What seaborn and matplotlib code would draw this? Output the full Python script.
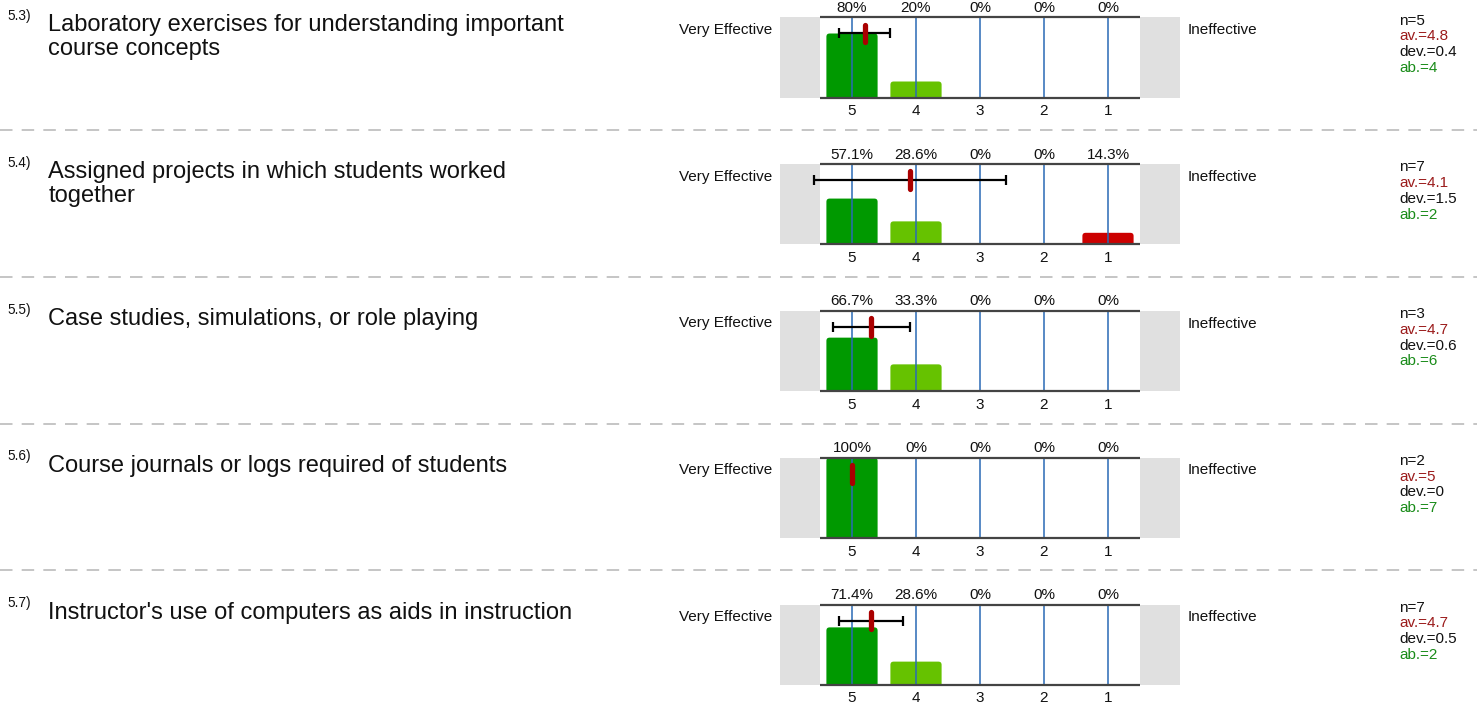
import matplotlib
matplotlib.use("Agg")
import matplotlib.pyplot as plt
import seaborn as sns
import pandas as pd
from matplotlib.patches import FancyBboxPatch

# ---------------- data ----------------
scale = ["5", "4", "3", "2", "1"]
question_ids = ["5.3)", "5.4)", "5.5)", "5.6)", "5.7)"]
questions = [
    "Laboratory exercises for understanding important\ncourse concepts",
    "Assigned projects in which students worked\ntogether",
    "Case studies, simulations, or role playing",
    "Course journals or logs required of students",
    "Instructor's use of computers as aids in instruction",
]
pct_q53 = [80, 20, 0, 0, 0]
pct_q54 = [57.1, 28.6, 0, 0, 14.3]
pct_q55 = [66.7, 33.3, 0, 0, 0]
pct_q56 = [100, 0, 0, 0, 0]
pct_q57 = [71.4, 28.6, 0, 0, 0]
percentages = [pct_q53, pct_q54, pct_q55, pct_q56, pct_q57]
n_vals = [5, 7, 3, 2, 7]
av_vals = [4.8, 4.1, 4.7, 5, 4.7]
dev_vals = [0.4, 1.5, 0.6, 0, 0.5]
ab_vals = [4, 2, 6, 7, 2]
left_label = "Very Effective"
right_label = "Ineffective"

# ---------------- style ----------------
bar_colors = {"5": "#009900", "4": "#66c200", "3": "#ffcc00", "2": "#ff6600", "1": "#cc0000"}
sns.set_theme(style="white")
plt.rcParams["font.family"] = ["Liberation Sans", "DejaVu Sans"]

W, H = 1477, 707
fig = plt.figure(figsize=(W / 100, H / 100), dpi=100)

def fx(px):
    return px / W

def fy(py):
    return 1 - py / H

row_top0 = 17.5
row_step = 146.75
plot_h = 80
small = 11

for i in range(len(questions)):
    top = row_top0 + i * row_step
    ax = fig.add_axes([fx(780), fy(top + plot_h), 400 / W, plot_h / H])
    df = pd.DataFrame({"rating": scale, "pct": percentages[i]})
    sns.barplot(data=df, x="rating", y="pct", hue="rating", order=scale, hue_order=scale,
                palette=bar_colors, width=0.8, saturation=1, legend=False, ax=ax, zorder=2)
    # rounded top corners
    for p in list(ax.patches):
        x0, w, h = p.get_x(), p.get_width(), p.get_height()
        fc = p.get_facecolor()
        p.remove()
        if h <= 0:
            continue
        fb = FancyBboxPatch((x0, -8), w, h + 8, boxstyle="round,pad=0,rounding_size=0.05",
                            mutation_aspect=80, fc=fc, ec="none", zorder=2)
        ax.add_patch(fb)

    ax.set_xlim(-1.125, 5.125)
    ax.set_ylim(0, 100)
    ax.set_facecolor("white")
    for s in ax.spines.values():
        s.set_visible(False)
    ax.axvspan(-1.125, -0.5, color="#e0e0e0", lw=0, zorder=0)
    ax.axvspan(4.5, 5.125, color="#e0e0e0", lw=0, zorder=0)
    ax.vlines(range(5), 0, 100, color="#2a6ab5", lw=1.1, zorder=3)
    ax.hlines([0, 100], -0.5, 4.5, color="#444444", lw=1.6, zorder=5, clip_on=False)

    # mean / deviation
    m = 5 - av_vals[i]
    ax.errorbar([m], [80], xerr=[dev_vals[i]], color="black", lw=1.6, capsize=3.6,
                capthick=1.6, zorder=6, clip_on=False)
    ax.plot([m, m], [69, 91], color="#aa0000", lw=3.8, solid_capstyle="round", zorder=7,
            clip_on=False)

    ax.set_xticks(range(5))
    ax.set_xticklabels(scale, fontsize=small, color="#111111")
    ax.tick_params(axis="x", length=0, pad=5)
    ax.set_yticks([])
    ax.set_xlabel("")
    ax.set_ylabel("")

    for k, v in enumerate(percentages[i]):
        ax.annotate(f"{v:g}%", xy=(k, 100), xytext=(0, 7), textcoords="offset points",
                    ha="center", va="center", fontsize=small, color="#111111",
                    annotation_clip=False)

    fig.text(fx(772), fy(top + 12.5), left_label, ha="right", va="center", fontsize=small,
             color="#111111")
    fig.text(fx(1188), fy(top + 12.5), right_label, ha="left", va="center", fontsize=small,
             color="#111111")

    stats = [(f"n={n_vals[i]}", "#111111"), (f"av.={av_vals[i]:g}", "#9b1b1b"),
             (f"dev.={dev_vals[i]:g}", "#111111"), (f"ab.={ab_vals[i]}", "#1a8c1a")]
    for k, (txt, col) in enumerate(stats):
        fig.text(fx(1399), fy(top + 3.2 + k * 15.7), txt, ha="left", va="center",
                 fontsize=small, color=col)

    fig.text(fx(7.5), fy(top - 1.5), question_ids[i], ha="left", va="center", fontsize=9.8,
             color="#111111")
    fig.text(fx(48.5), fy(top - 3), questions[i], ha="left", va="top", fontsize=17,
             color="#111111", linespacing=1.085)

    if i < len(questions) - 1:
        ysep = fy(130 + i * row_step)
        fig.add_artist(plt.Line2D([0, 1], [ysep, ysep], transform=fig.transFigure,
                                  color="#bbbbbb", lw=1.2, linestyle=(0, (7.5, 5.5))))

fig.savefig("out.png", dpi=100)
